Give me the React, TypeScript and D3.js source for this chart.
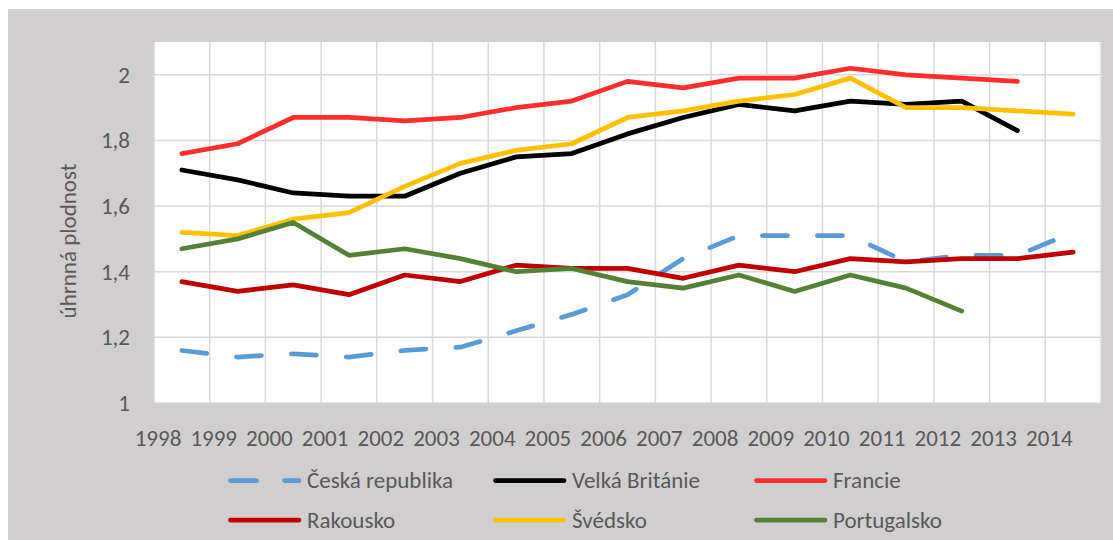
import React, { useEffect, useRef } from 'react';
import * as d3 from 'd3';

// úhrnná plodnost 1998-2014, vybrané země

const years = ['1998', '1999', '2000', '2001', '2002', '2003', '2004', '2005', '2006',
  '2007', '2008', '2009', '2010', '2011', '2012', '2013', '2014'];

const ceskaRepublika = [1.16, 1.14, 1.15, 1.14, 1.16, 1.17, 1.22, 1.27, 1.33, 1.44, 1.51, 1.51, 1.51, 1.43, 1.45, 1.45, 1.52];
const velkaBritanie = [1.71, 1.68, 1.64, 1.63, 1.63, 1.70, 1.75, 1.76, 1.82, 1.87, 1.91, 1.89, 1.92, 1.91, 1.92, 1.83, null];
const francie = [1.76, 1.79, 1.87, 1.87, 1.86, 1.87, 1.90, 1.92, 1.98, 1.96, 1.99, 1.99, 2.02, 2.00, 1.99, 1.98, null];
const rakousko = [1.37, 1.34, 1.36, 1.33, 1.39, 1.37, 1.42, 1.41, 1.41, 1.38, 1.42, 1.40, 1.44, 1.43, 1.44, 1.44, 1.46];
const svedsko = [1.52, 1.51, 1.56, 1.58, 1.66, 1.73, 1.77, 1.79, 1.87, 1.89, 1.92, 1.94, 1.99, 1.90, 1.90, 1.89, 1.88];
const portugalsko = [1.47, 1.50, 1.55, 1.45, 1.47, 1.44, 1.40, 1.41, 1.37, 1.35, 1.39, 1.34, 1.39, 1.35, 1.28, null, null];

const yTicks = [1, 1.2, 1.4, 1.6, 1.8, 2];

const series = [
  { name: 'Česká republika', values: ceskaRepublika, color: '#5B9BD5', dash: '25 30' },
  { name: 'Velká Británie', values: velkaBritanie, color: '#000000', dash: null },
  { name: 'Francie', values: francie, color: '#FF2D2D', dash: null },
  { name: 'Rakousko', values: rakousko, color: '#C00000', dash: null },
  { name: 'Švédsko', values: svedsko, color: '#FFC000', dash: null },
  { name: 'Portugalsko', values: portugalsko, color: '#548235', dash: null },
];

const FONT = "Carlito, Calibri, Lato, sans-serif";
const FS = 23;

export default function App() {
  const ref = useRef<SVGSVGElement>(null);

  useEffect(() => {
    const width = 1113;
    const height = 540;
    const svg = d3.select(ref.current).attr('width', width).attr('height', height);
    svg.selectAll('*').remove();

    // chart background
    svg.append('rect').attr('x', 8).attr('y', 9).attr('width', width - 8).attr('height', height - 9)
      .attr('fill', '#D0CECE');

    const left = 154, right = 1101, top = 42, bottom = 403;
    const x = d3.scaleBand<string>().domain(years).range([left, right]).padding(0);
    const y = d3.scaleLinear().domain([1, 2.1]).range([bottom, top]);

    svg.append('rect').attr('x', left).attr('y', top).attr('width', right - left).attr('height', bottom - top)
      .attr('fill', '#ffffff');

    const grid = svg.append('g').attr('stroke', '#D9D9D9').attr('stroke-width', 1.5);
    // vertical gridlines at category boundaries
    years.forEach((yr) => {
      const gx = x(yr) as number;
      grid.append('line').attr('x1', gx).attr('x2', gx).attr('y1', top).attr('y2', bottom);
    });
    grid.append('line').attr('x1', right).attr('x2', right).attr('y1', top).attr('y2', bottom);
    yTicks.forEach((t) => {
      grid.append('line').attr('x1', left).attr('x2', right).attr('y1', y(t)).attr('y2', y(t));
    });

    // y tick labels
    svg.append('g').selectAll('text').data(yTicks).enter().append('text')
      .attr('x', 130).attr('y', (d) => y(d) + 8)
      .attr('text-anchor', 'end')
      .attr('font-family', FONT).attr('font-size', FS).attr('fill', '#595959')
      .text((d) => d3.format('.1f')(d).replace('.', ',').replace(',0', ''));

    // x tick labels (sit on the boundary, not the band centre)
    svg.append('g').selectAll('text').data(years).enter().append('text')
      .attr('x', (d) => (x(d) as number) + 4).attr('y', 446)
      .attr('text-anchor', 'middle')
      .attr('font-family', FONT).attr('font-size', FS).attr('fill', '#595959')
      .text((d) => d);

    // axis title
    svg.append('text')
      .attr('transform', 'translate(76,241) rotate(-90)')
      .attr('text-anchor', 'middle')
      .attr('font-family', FONT).attr('font-size', FS).attr('fill', '#595959')
      .text('úhrnná plodnost');

    const line = d3.line<number | null>()
      .defined((d) => d != null)
      .x((d, i) => (x(years[i]) as number) + x.bandwidth() / 2)
      .y((d) => y(d as number));

    series.forEach((s) => {
      const p = svg.append('path')
        .attr('d', line(s.values))
        .attr('fill', 'none')
        .attr('stroke', s.color)
        .attr('stroke-width', 4.75)
        .attr('stroke-linejoin', 'round')
        .attr('stroke-linecap', 'round');
      if (s.dash) p.attr('stroke-dasharray', s.dash);
    });

    // legend
    const colX = [228, 493, 754];
    const rowY = [480.5, 520];
    series.forEach((s, i) => {
      const lx = colX[i % 3];
      const ly = rowY[Math.floor(i / 3)];
      const l = svg.append('line')
        .attr('x1', lx + 2.5).attr('x2', lx + 71).attr('y1', ly).attr('y2', ly)
        .attr('stroke', s.color).attr('stroke-width', 4.75).attr('stroke-linecap', 'round');
      if (s.dash) l.attr('stroke-dasharray', '26 28');
      svg.append('text')
        .attr('x', lx + 79).attr('y', ly + 7.5)
        .attr('font-family', FONT).attr('font-size', FS).attr('fill', '#595959')
        .text(s.name);
    });
  }, []);

  return (
    <div>
      <svg ref={ref} style={{ position: 'absolute', left: 0, top: 0 }}></svg>
    </div>
  );
}
